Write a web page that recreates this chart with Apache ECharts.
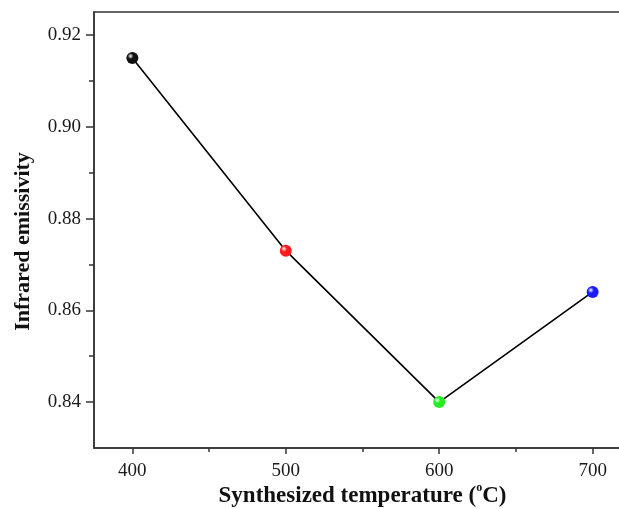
<!DOCTYPE html>
<html>
<head>
<meta charset="utf-8">
<script src="https://cdn.jsdelivr.net/npm/echarts@6/dist/echarts.min.js"></script>
<style>
  html, body { margin: 0; padding: 0; background: #fff; }
  #chart { width: 619px; height: 509px; }
</style>
</head>
<body>
<div id="chart"></div>
<script>
// data
const temps = [400, 500, 600, 700]
const emissivity = [0.915, 0.873, 0.840, 0.864]
const pointColors = ['#111111', '#ff1c1c', '#22ee22', '#1c1cff']
const xMajor = [400, 500, 600, 700]
const xMinor = [450, 550, 650]
const yMajor = [0.84, 0.86, 0.88, 0.90, 0.92]
const yMinor = [0.85, 0.87, 0.89, 0.91]

const font = 'Liberation Serif, Times New Roman, serif'
const axisCol = '#333'

function sphere(c) {
  return {
    type: 'radial', x: 0.35, y: 0.35, r: 0.7,
    colorStops: [
      { offset: 0, color: '#ffffff' },
      { offset: 0.35, color: c },
      { offset: 1, color: c }
    ]
  }
}

let chart = echarts.init(document.getElementById('chart'))

let xRange = { min: 375, max: 725 }
let yRange = { min: 0.83, max: 0.925 }

let option = {
  animation: false,
  grid: {
    left: 94, top: 12, width: 537, height: 436,
    outerBoundsMode: 'none',
    containLabel: false,
    show: true, borderColor: axisCol, borderWidth: 1.5,
    backgroundColor: 'transparent'
  },
  xAxis: [
    {
      type: 'value', ...xRange, position: 'bottom',
      name: '{a|Synthesized temperature (}{s|o}{a|C)}',
      nameLocation: 'middle', nameGap: 34,
      nameMoveOverlap: false,
      nameTextStyle: {
        rich: {
          a: { fontFamily: font, fontWeight: 'bold', fontSize: 23, color: '#111' },
          s: { fontFamily: font, fontWeight: 'bold', fontSize: 12, color: '#111', verticalAlign: 'top', padding: [0, 0, 16, 0] }
        }
      },
      axisLine: { show: true, lineStyle: { color: axisCol, width: 1.5 } },
      axisTick: { show: true, customValues: xMajor, length: 6, inside: false, lineStyle: { color: axisCol, width: 1.5 } },
      axisLabel: { customValues: xMajor, fontFamily: font, fontSize: 19, color: '#1a1a1a', margin: 14 },
      splitLine: { show: false }
    },
    {
      type: 'value', ...xRange, position: 'bottom',
      axisLine: { show: false },
      axisTick: { show: true, customValues: xMinor, length: 4, lineStyle: { color: axisCol, width: 1.5 } },
      axisLabel: { show: false },
      splitLine: { show: false }
    }
  ],
  yAxis: [
    {
      type: 'value', ...yRange, position: 'left',
      name: 'Infrared emissivity',
      nameLocation: 'middle', nameGap: 60,
      nameMoveOverlap: false,
      nameTextStyle: { fontFamily: font, fontWeight: 'bold', fontSize: 22, color: '#111', padding: [0, 23, 0, 0] },
      axisLine: { show: true, lineStyle: { color: axisCol, width: 1.5 } },
      axisTick: { show: true, customValues: yMajor, length: 8, lineStyle: { color: axisCol, width: 1.5 } },
      axisLabel: {
        customValues: yMajor, fontFamily: font, fontSize: 19, color: '#1a1a1a', margin: 13,
        formatter: v => v.toFixed(2)
      },
      splitLine: { show: false }
    },
    {
      type: 'value', ...yRange, position: 'left',
      axisLine: { show: false },
      axisTick: { show: true, customValues: yMinor, length: 5, lineStyle: { color: axisCol, width: 1.5 } },
      axisLabel: { show: false },
      splitLine: { show: false }
    }
  ],
  series: [{
    type: 'line',
    data: temps.map((t, i) => ({
      value: [t, emissivity[i]],
      itemStyle: { color: sphere(pointColors[i]) }
    })),
    symbol: 'circle',
    symbolSize: 12,
    lineStyle: { color: '#000', width: 1.6 },
    itemStyle: { borderWidth: 0 },
    z: 3
  }]
}

chart.setOption(option)
</script>
</body>
</html>
